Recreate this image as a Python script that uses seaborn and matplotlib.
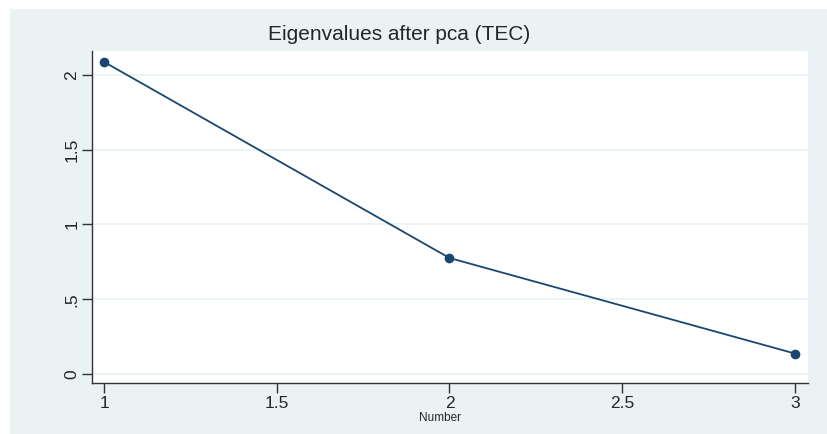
import seaborn as sns
import matplotlib.pyplot as plt
import pandas as pd
from matplotlib.patches import Rectangle

# Scree plot data
number = [1, 2, 3]
eigenvalues = [2.087, 0.776, 0.137]
x_ticks = [1, 1.5, 2, 2.5, 3]
x_labels = ['1', '1.5', '2', '2.5', '3']
y_ticks = [0, 0.5, 1, 1.5, 2]
y_labels = ['0', '.5', '1', '1.5', '2']

df = pd.DataFrame({'Number': number, 'Eigenvalue': eigenvalues})

sns.set_style('white')
plt.rcParams['font.family'] = ['Liberation Sans', 'DejaVu Sans']

W, H = 827, 434
fig = plt.figure(figsize=(W / 100, H / 100), dpi=100, facecolor='white')
bg = '#eaf2f3'
fig.add_artist(Rectangle((10 / W, 0), 1 - 10 / W, 1 - 9 / H,
                         transform=fig.transFigure, facecolor=bg,
                         edgecolor='none', zorder=-1))

ax = fig.add_axes([92 / W, 1 - 383 / H, (808 - 92) / W, (383 - 51) / H])
ax.set_zorder(1)
ax.set_facecolor('white')

sns.lineplot(data=df, x='Number', y='Eigenvalue', ax=ax, color='#1a476f',
             marker='o', markersize=7, markeredgewidth=0, linewidth=1.3)

ax.set_xlim(0.965, 3.038)
ax.set_ylim(-0.06, 2.16)
ax.set_xticks(x_ticks, x_labels, fontsize=12.5)
ax.set_yticks(y_ticks, y_labels, fontsize=12.5, rotation=90, va='center')
ax.tick_params(axis='both', direction='out', length=7, width=1,
               color='#333333', pad=2, left=True, bottom=True)
ax.yaxis.grid(True, color='#eaf2f3', linewidth=1.2)
ax.xaxis.grid(False)
for s in ['top', 'right']:
    ax.spines[s].set_visible(False)
for s in ['left', 'bottom']:
    ax.spines[s].set_color('#333333')
    ax.spines[s].set_linewidth(1)

ax.set_xlabel('')
ax.set_ylabel('')
fig.text(440 / W, 1 - 418 / H, 'Number', ha='center', va='center', fontsize=8.5)
fig.text(399 / W, 1 - 35 / H, 'Eigenvalues after pca (TEC)', ha='center',
         va='center', fontsize=15)

fig.savefig('out.png', dpi=100, facecolor='white')
